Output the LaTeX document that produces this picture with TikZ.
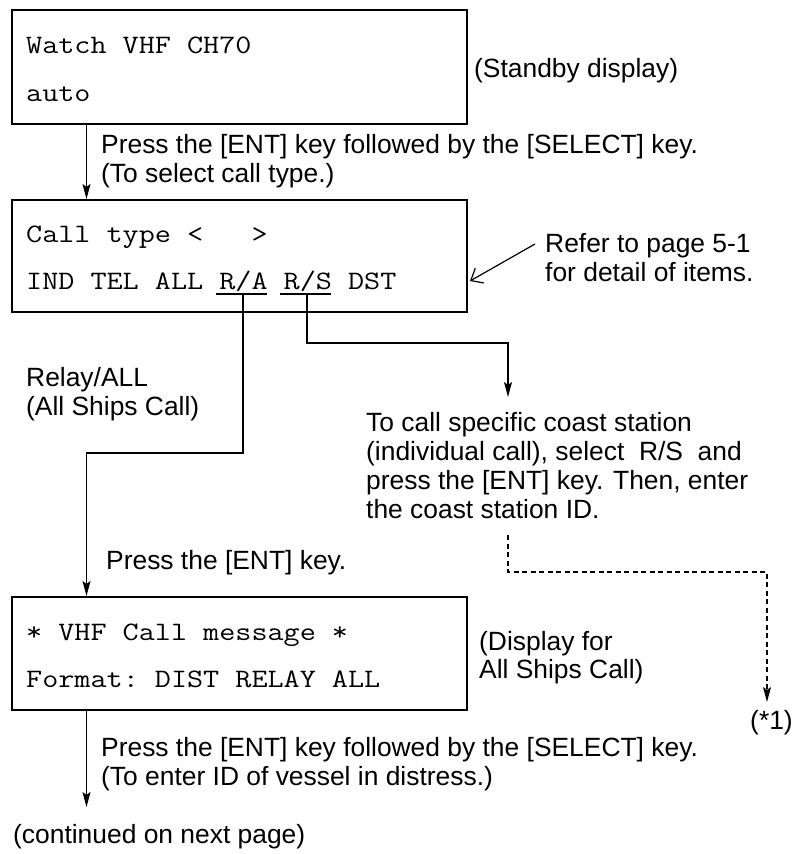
\documentclass[tikz,border=0pt]{standalone}
\usepackage{fontspec}
\setmainfont{Liberation Sans}
\setmonofont{Latin Modern Mono}[FakeStretch=1.175]
\usetikzlibrary{arrows.meta}
\begin{document}
\begin{tikzpicture}[x=1pt,y=-1pt,
  dispbox/.style={draw, line width=2pt, minimum width=455pt, anchor=north west, inner sep=0pt},
  mono/.style={anchor=base west, inner sep=0pt, font=\fontsize{26.6}{30}\ttfamily},
  lbl/.style={anchor=base west, inner sep=0pt, font=\fontsize{26.4}{29}\selectfont},
  conn/.style={line width=1.2pt, -{Stealth[length=15pt,width=8pt,inset=3pt]}},
  plain/.style={line width=1.2pt},
  refarrow/.style={line width=1.2pt, -{Straight Barb[length=10pt,width=17pt]}},
  dashline/.style={dash pattern=on 5pt off 3.5pt}
]
\useasboundingbox (0,0) rectangle (795,854);

% display boxes
\node[dispbox, minimum height=114pt] (b1) at (11,9) {};
\node[dispbox, minimum height=112pt] (b2) at (11,199) {};
\node[dispbox, minimum height=113pt] (b3) at (11,596) {};

% box texts
\node[mono] (m1a) at (26,53) {Watch VHF CH70};
\node[mono] (m1b) at (26,101) {auto};
\node[mono] (m2a) at (26,242) {Call type <\ \ \ >};
\node[mono] (m2b) at (26,289) {IND TEL ALL R/A R/S DST};
\node[mono] (m3a) at (26,640) {* VHF Call message *};
\node[mono] (m3b) at (26,687) {Format: DIST RELAY ALL};

% underlines
\coordinate (ul1a) at (216,294); \coordinate (ul1b) at (267,294);
\coordinate (ul2a) at (280,294); \coordinate (ul2b) at (331,294);
\draw[plain] (ul1a) -- (ul1b);
\draw[plain] (ul2a) -- (ul2b);

% labels
\node[lbl] (sb) at (474,77) {(Standby display)};
\node[lbl] (p1a) at (101,153) {Press the [ENT] key followed by the [SELECT] key.};
\node[lbl] (p1b) at (101,182) {(To select call type.)};
\node[lbl] (rf1) at (545,252) {Refer to page 5-1};
\node[lbl] (rf2) at (545,281) {for detail of items.};
\node[lbl] (ra1) at (26,386) {Relay/ALL};
\node[lbl] (ra2) at (26,415) {(All Ships Call)};
\node[lbl] (cs1) at (366,431) {To call specific coast station};
\node[lbl] (cs2) at (366,460) {(individual call), select~ R/S~ and};
\node[lbl] (cs3) at (366,489) {press the [ENT] key. Then, enter};
\node[lbl] (cs4) at (366,518) {the coast station ID.};
\node[lbl] (pe) at (106,569) {Press the [ENT] key.};
\node[lbl] (df1) at (479,650) {(Display for};
\node[lbl] (df2) at (479,678) {All Ships Call)};
\node[lbl] (st1) at (750,729) {(*1)};
\node[lbl] (p2a) at (101,756) {Press the [ENT] key followed by the [SELECT] key.};
\node[lbl] (p2b) at (101,785) {(To enter ID of vessel in distress.)};
\node[lbl] (cont) at (13,843) {(continued on next page)};

% connectors
\coordinate (ax) at (86.5,0);
\coordinate (ra) at (243,294);
\coordinate (rs) at (307,294);
\coordinate (rsend) at (508,397);
\coordinate (dstart) at (508,535);
\coordinate (dend) at (767,702);
\coordinate (cend) at (86.5,807);
\coordinate (refstart) at (535,244);
\coordinate (refend) at (470,281);

\draw[conn] (ax |- b1.south) -- (ax |- b2.north);
\draw[conn] (ra) -- (243,453) -- (86.5,453) -- (ax |- b3.north);
\draw[conn] (rs) -- (307,343) -- (508,343) -- (rsend);
\draw[conn, dashline] (dstart) -- (508,572) -- (767,572) -- (dend);
\draw[conn] (ax |- b3.south) -- (cend);
\draw[refarrow] (refstart) -- (refend);
\end{tikzpicture}
\end{document}
